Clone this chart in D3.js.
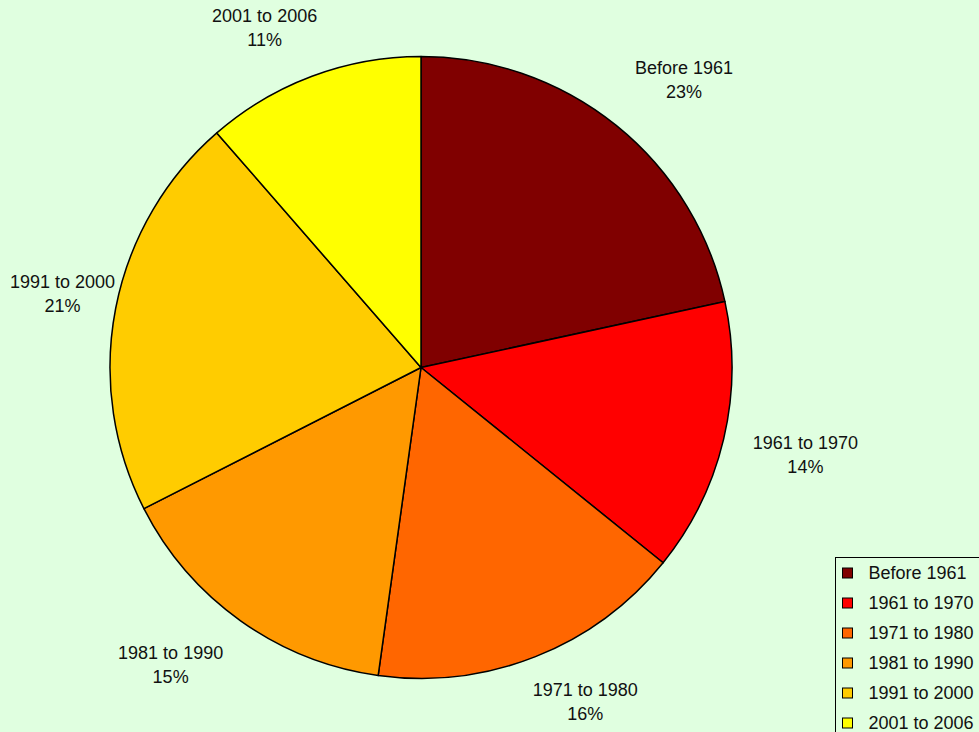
<!DOCTYPE html>
<html>
<head>
<meta charset="utf-8">
<script src="https://cdn.jsdelivr.net/npm/d3@7"></script>
<style>
  body { margin: 0; background: #e0ffe0; }
  svg { display: block; }
  text { font-family: "Liberation Sans", Arial, sans-serif; font-size: 18px; fill: #111; }
</style>
</head>
<body>
<svg width="979" height="732"></svg>
<script>
const categories = ["Before 1961", "1961 to 1970", "1971 to 1980", "1981 to 1990", "1991 to 2000", "2001 to 2006"];
const shares = [21.6, 14.2, 16.4, 15.3, 21.1, 11.4];
const pctLabels = ["23%", "14%", "16%", "15%", "21%", "11%"];
const colors = ["#800000", "#ff0000", "#ff6600", "#ff9900", "#ffcc00", "#ffff00"];

const svg = d3.select("svg");
const width = 979, height = 732;
const cx = 421, cy = 367.5, radius = 311;

const data = categories.map((c, i) => ({ name: c, value: shares[i], pct: pctLabels[i], color: colors[i] }));

const pie = d3.pie().sort(null).value(d => d.value);
const arc = d3.arc().innerRadius(0).outerRadius(radius);
const arcs = pie(data);

const g = svg.append("g").attr("transform", `translate(${cx},${cy})`);

g.selectAll("path")
    .data(arcs)
    .enter().append("path")
    .attr("d", arc)
    .attr("fill", d => d.data.color)
    .attr("stroke", "#000")
    .attr("stroke-width", 1.5)
    .attr("stroke-linejoin", "round");

// labels: box pushed outward from a point just outside the rim on the mid angle
const labelR = radius + 30;
const lineH = 24;
const clamp = (v, lo, hi) => Math.max(lo, Math.min(hi, v));

const labels = g.selectAll("g.lbl")
    .data(arcs)
    .enter().append("g")
    .attr("class", "lbl");

labels.each(function (d) {
    const sel = d3.select(this);
    const t = sel.append("text").attr("text-anchor", "middle");
    t.append("tspan").attr("x", 0).attr("dy", 0).text(d.data.name);
    t.append("tspan").attr("x", 0).attr("dy", lineH).text(d.data.pct);
    const w = t.node().getBBox().width;
    const h = 2 * lineH - 6;
    const a = (d.startAngle + d.endAngle) / 2;
    const sx = Math.sin(a), sy = -Math.cos(a);
    let mx = labelR * sx + clamp(sx * 2, -1, 1) * w / 2;
    let my = labelR * sy + clamp(sy * 2, -1, 1) * h / 2;
    // keep the label inside the picture
    mx = clamp(mx, 10 - cx + w / 2, width - 10 - cx - w / 2);
    my = clamp(my, 8 - cy + h / 2, height - 8 - cy - h / 2);
    sel.attr("transform", `translate(${mx},${my - h / 2 + 14})`);
});

// legend
const legend = svg.append("g").attr("transform", "translate(835.5,557.5)");
legend.append("rect")
    .attr("width", 160)
    .attr("height", 190)
    .attr("fill", "#e0ffe0")
    .attr("stroke", "#000")
    .attr("stroke-width", 1);

const items = legend.selectAll("g.item")
    .data(data)
    .enter().append("g")
    .attr("class", "item")
    .attr("transform", (d, i) => `translate(0,${15 + i * 30})`);

items.append("rect")
    .attr("x", 7)
    .attr("y", -4.5)
    .attr("width", 10)
    .attr("height", 10)
    .attr("fill", d => d.color)
    .attr("stroke", "#000")
    .attr("stroke-width", 1);

items.append("text")
    .attr("x", 33)
    .attr("y", 6.5)
    .text(d => d.name);
</script>
</body>
</html>
